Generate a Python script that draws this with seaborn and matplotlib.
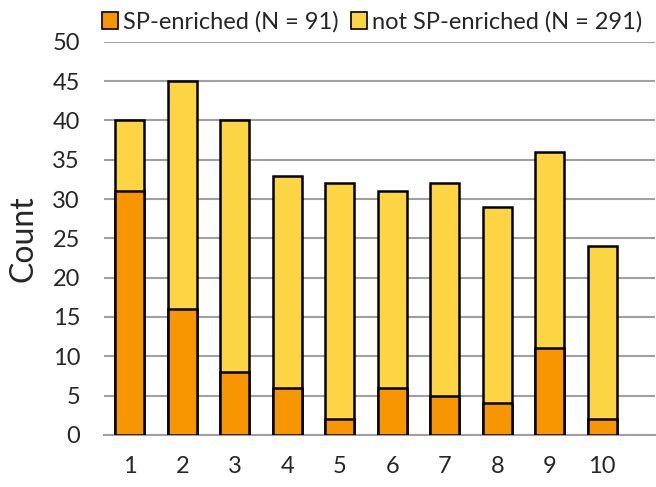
import numpy as np
import pandas as pd
import seaborn as sns
import matplotlib.pyplot as plt
from matplotlib.patches import Patch

groups = ['1', '2', '3', '4', '5', '6', '7', '8', '9', '10']
sp_enriched = [31, 16, 8, 6, 2, 6, 5, 4, 11, 2]
not_sp_enriched = [9, 29, 32, 27, 30, 25, 27, 25, 25, 22]

df = pd.DataFrame({'group': groups, 'sp': sp_enriched, 'not_sp': not_sp_enriched})
df['total'] = df['sp'] + df['not_sp']

sns.set_style('white')
plt.rcParams['font.family'] = ['Lato', 'DejaVu Sans']

orange = '#F79600'
yellow = '#FDD443'

fig = plt.figure(figsize=(6.56, 4.87), dpi=100)
ax = fig.add_axes([0.158, 0.107, 0.84, 0.807])

sns.barplot(x='group', y='total', data=df, color=yellow, width=0.55,
            edgecolor='black', linewidth=1.8, saturation=1, ax=ax, zorder=3)
sns.barplot(x='group', y='sp', data=df, color=orange, width=0.55,
            edgecolor='black', linewidth=1.8, saturation=1, ax=ax, zorder=4)

ax.set_ylim(0, 50)
ax.set_xlim(-0.5, 9.5 + 0.5)
ax.set_yticks(range(0, 51, 5))
ax.yaxis.grid(True, color='#A0A0A0', linewidth=1.5, zorder=0)
ax.set_axisbelow(True)
for s in ['top', 'right', 'left']:
    ax.spines[s].set_visible(False)
ax.spines['bottom'].set_color('#A0A0A0')
ax.spines['bottom'].set_linewidth(1.5)
ax.tick_params(axis='both', length=0, labelsize=17)
ax.tick_params(axis='x', pad=15)
ax.tick_params(axis='y', pad=17)
ax.set_xlabel('')
ax.set_ylabel('Count', fontsize=23, labelpad=10)

handles = [Patch(facecolor=orange, edgecolor='black', linewidth=1.2, label='SP-enriched (N = 91)'),
           Patch(facecolor=yellow, edgecolor='black', linewidth=1.2, label='not SP-enriched (N = 291)')]
fig.legend(handles=handles, loc='upper center', bbox_to_anchor=(0.567, 1.02), ncol=2,
           frameon=False, fontsize=17, handlelength=0.7, handleheight=0.7,
           handletextpad=0.2, columnspacing=0.5)

fig.savefig('out.png', dpi=100)
